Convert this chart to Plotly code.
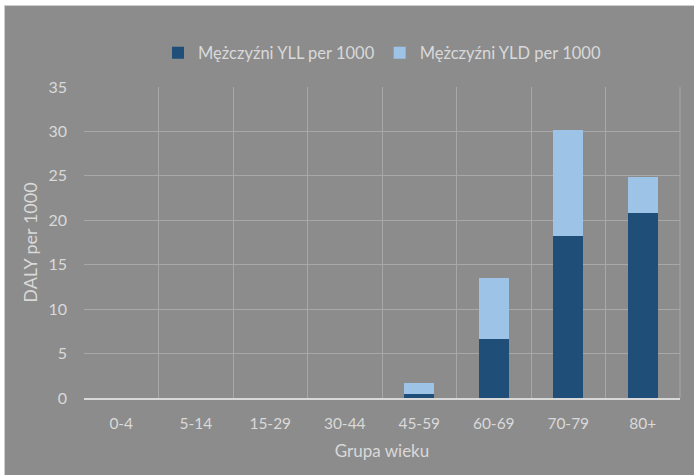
import plotly.graph_objects as go

categories = ["0-4", "5-14", "15-29", "30-44", "45-59", "60-69", "70-79", "80+"]
yll = [0, 0, 0, 0, 0.45, 6.65, 18.2, 20.85]
yld = [0, 0, 0, 0, 1.25, 6.85, 12.0, 4.05]

txt = "#d9d9d9"
font = "Lato, Liberation Sans, sans-serif"

W, H = 694, 475
L, R, T, B = 84, 14, 87, 77
pw, ph = W - L - R, H - T - B

def px(x):
    return (x - L) / pw

def py(y):
    return 1 + (T - y) / ph

fig = go.Figure()
fig.add_trace(go.Bar(x=categories, y=yll, name="Mężczyźni YLL per 1000",
                     marker=dict(color="#1f4e79", line=dict(width=0))))
fig.add_trace(go.Bar(x=categories, y=yld, name="Mężczyźni YLD per 1000",
                     marker=dict(color="#9dc3e6", line=dict(width=0))))

fig.update_layout(
    width=W, height=H,
    barmode="stack", bargap=0.6,
    paper_bgcolor="#8c8c8c", plot_bgcolor="#8c8c8c",
    margin=dict(l=L, r=R, t=T, b=B),
    font=dict(family=font, size=15, color=txt),
    legend=dict(orientation="h", x=0.5, xanchor="center", y=py(53), yanchor="middle",
                font=dict(size=16.5, color=txt), traceorder="normal",
                itemwidth=30),
    xaxis=dict(type="category", tickson="boundaries", showgrid=True,
               gridcolor="#a8a8a8", gridwidth=1, ticks="", showline=True,
               linecolor="#d9d9d9", linewidth=2, mirror=False,
               ticklabelstandoff=10,
               tickfont=dict(size=15.5, color=txt),
               title=dict(text="Grupa wieku", font=dict(size=17, color=txt), standoff=15)),
    yaxis=dict(range=[0, 35], dtick=5, showgrid=True, gridcolor="#a8a8a8",
               gridwidth=1, zeroline=False, ticks="", ticklen=0,
               ticklabelstandoff=16,
               tickfont=dict(size=16, color=txt),
               title=dict(text="DALY per 1000", font=dict(size=18, color=txt), standoff=6)),
    showlegend=True,
)
fig.add_shape(type="line", xref="paper", yref="paper", x0=1, x1=1, y0=0, y1=1,
              line=dict(color="#a8a8a8", width=1))
# white page border around the chart area
fig.add_shape(type="rect", xref="paper", yref="paper", x0=px(0), x1=px(W), y0=py(0), y1=py(5),
              fillcolor="white", line=dict(width=0), layer="above")
fig.add_shape(type="rect", xref="paper", yref="paper", x0=px(0), x1=px(W), y0=py(5), y1=py(6),
              fillcolor="#cfcfcf", line=dict(width=0), layer="above")
fig.add_shape(type="rect", xref="paper", yref="paper", x0=px(0), x1=px(4), y0=py(0), y1=py(H),
              fillcolor="white", line=dict(width=0), layer="above")
fig.add_shape(type="rect", xref="paper", yref="paper", x0=px(4), x1=px(5), y0=py(5), y1=py(H),
              fillcolor="#cfcfcf", line=dict(width=0), layer="above")

fig.write_html("out.html", config={"displayModeBar": False},
               post_script="document.body.style.margin='0';")
